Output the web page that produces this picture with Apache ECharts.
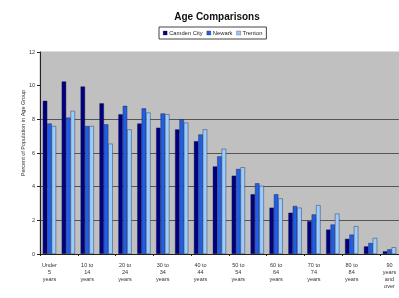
<!DOCTYPE html>
<html>
<head>
<meta charset="utf-8">
<script src="https://cdn.jsdelivr.net/npm/echarts@6/dist/echarts.min.js"></script>
<style>
  html, body { margin: 0; padding: 0; background: #fff; }
  #chart { width: 399px; height: 298px; }
</style>
</head>
<body>
<div id="chart"></div>
<script>
// age groups, Excel shows every second label
const ageGroups = [
  'Under\n5\nyears', '5 to\n9\nyears', '10 to\n14\nyears', '15 to\n19\nyears',
  '20 to\n24\nyears', '25 to\n29\nyears', '30 to\n34\nyears', '35 to\n39\nyears',
  '40 to\n44\nyears', '45 to\n49\nyears', '50 to\n54\nyears', '55 to\n59\nyears',
  '60 to\n64\nyears', '65 to\n69\nyears', '70 to\n74\nyears', '75 to\n79\nyears',
  '80 to\n84\nyears', '85 to\n89\nyears', '90\nyears\nand\nover'
];
const camden = [9.1, 10.25, 9.95, 8.95, 8.3, 7.75, 7.5, 7.4, 6.7, 5.2, 4.65, 3.55, 2.75, 2.45, 1.95, 1.45, 0.9, 0.45, 0.16];
const newark = [7.75, 8.1, 7.6, 7.7, 8.8, 8.65, 8.35, 8.0, 7.1, 5.8, 5.05, 4.2, 3.55, 2.85, 2.35, 1.75, 1.15, 0.65, 0.28];
const trenton = [7.6, 8.5, 7.6, 6.55, 7.4, 8.4, 8.3, 7.8, 7.4, 6.25, 5.15, 4.05, 3.3, 2.75, 2.9, 2.4, 1.65, 0.95, 0.4];
const yTicks = [0, 2, 4, 6, 8, 10, 12];

const chart = echarts.init(document.getElementById('chart'));
const font = 'Liberation Sans, Arial, sans-serif';

const bar = (name, data, color) => ({
  name,
  type: 'bar',
  data,
  barGap: '0%',
  barCategoryGap: '30%',
  itemStyle: { color, borderColor: '#1a1a3a', borderWidth: 0.4 }
});

chart.setOption({
  animation: false,
  backgroundColor: '#fff',
  textStyle: { fontFamily: font },
  title: {
    text: 'Age Comparisons',
    left: 212,
    top: 7,
    textAlign: 'center',
    textStyle: { fontSize: 10, fontWeight: 'bold', color: '#111', fontFamily: font }
  },
  legend: {
    left: 159,
    top: 27,
    orient: 'horizontal',
    icon: 'rect',
    itemWidth: 4,
    itemHeight: 4,
    itemGap: 4,
    padding: [3, 4, 3, 4],
    borderColor: '#444',
    borderWidth: 1,
    itemStyle: { borderWidth: 0.3 },
    textStyle: { fontSize: 5.8, color: '#222', fontFamily: font, padding: [0, 0, 0, -3] },
    data: ['Camden City', 'Newark', 'Trenton']
  },
  grid: { left: 40, top: 52, right: -6, bottom: 44, show: true, backgroundColor: '#c0c0c0', borderColor: '#bdbdbd', borderWidth: 1 },
  xAxis: {
    type: 'category',
    data: ageGroups,
    axisLine: { lineStyle: { color: '#222', width: 1 } },
    axisTick: { show: true, alignWithLabel: false, length: 2, lineStyle: { color: '#222' } },
    axisLabel: { interval: 1, fontSize: 5.5, color: '#333', lineHeight: 7, margin: 8 }
  },
  yAxis: {
    type: 'value',
    min: 0,
    max: 12,
    interval: 2,
    name: 'Percent of Population in Age Group',
    nameLocation: 'middle',
    nameGap: 14,
    nameMoveOverlap: false,
    nameTextStyle: { fontSize: 5.5, color: '#333', fontFamily: font, padding: [0, 0, 0, 40] },
    axisLine: { show: true, lineStyle: { color: '#222', width: 1 } },
    axisTick: { show: true, length: 3, lineStyle: { color: '#222' } },
    axisLabel: { fontSize: 5.5, color: '#333', margin: 5,
      formatter: v => yTicks.includes(v) ? String(v) : '' },
    splitLine: { show: true, lineStyle: { color: ['#555', '#555', '#555', '#555', '#555', 'rgba(0,0,0,0)', 'rgba(0,0,0,0)'], width: 1 } }
  },
  series: [
    bar('Camden City', camden, '#000080'),
    bar('Newark', newark, '#1f5fe6'),
    bar('Trenton', trenton, '#99ccff')
  ]
});
</script>
</body>
</html>
